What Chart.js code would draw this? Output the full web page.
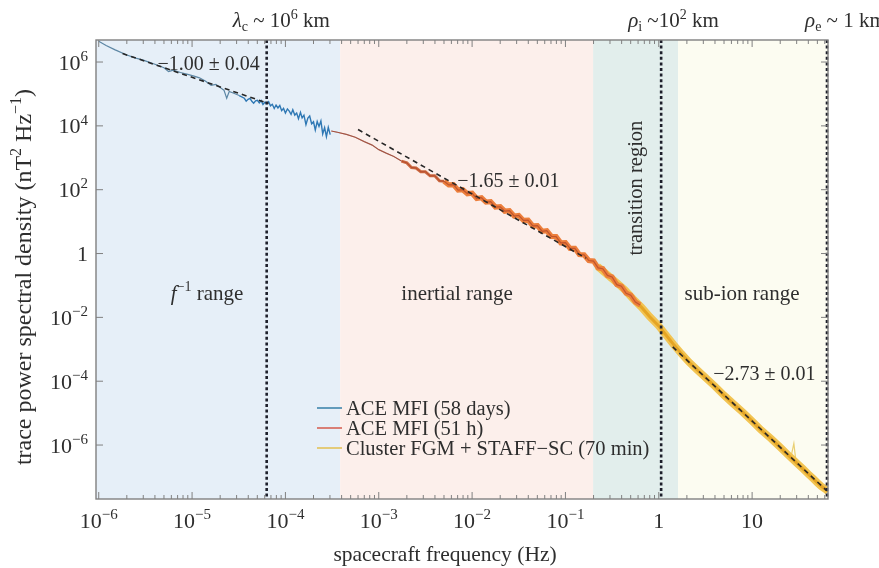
<!DOCTYPE html>
<html>
<head>
<meta charset="utf-8">
<script src="https://cdn.jsdelivr.net/npm/chart.js@4.4.0/dist/chart.umd.min.js"></script>
<style>
  html, body { margin: 0; padding: 0; background: #fff; }
  #wrap { width: 879px; height: 568px; position: relative; }
</style>
</head>
<body>
<div id="wrap"><canvas id="psd"></canvas></div>
<script>
// ACE MFI, 58 days (Hz, nT^2 Hz^-1)
const freqAce58 = [1.0e-6, 1.2e-6, 1.5e-6, 2.0e-6, 2.5e-6, 3.0e-6, 3.5e-6, 4.0e-6, 5.0e-6, 5.6e-6,
  6.3e-6, 7.5e-6, 9.0e-6, 1.05e-5, 1.2e-5, 1.4e-5, 1.6e-5, 1.8e-5, 2.0e-5, 2.2e-5,
  2.35e-5, 2.5e-5, 2.8e-5, 3.2e-5,
  3.63e-5, 3.80e-5, 3.98e-5, 4.17e-5, 4.37e-5, 4.57e-5, 4.79e-5, 5.01e-5, 5.25e-5, 5.50e-5,
  5.75e-5, 6.03e-5, 6.31e-5, 6.61e-5, 6.92e-5, 7.24e-5, 7.59e-5, 7.94e-5, 8.32e-5, 8.71e-5,
  9.12e-5, 9.55e-5, 1.00e-4, 1.05e-4, 1.10e-4, 1.15e-4, 1.20e-4, 1.26e-4, 1.32e-4, 1.38e-4,
  1.45e-4, 1.51e-4, 1.58e-4, 1.66e-4, 1.74e-4, 1.82e-4, 1.91e-4, 2.00e-4, 2.09e-4, 2.19e-4,
  2.29e-4, 2.40e-4, 2.51e-4, 2.63e-4, 2.75e-4, 2.88e-4, 3.02e-4];
const psdAce58 = [4.5e6, 3.3e6, 2.4e6, 1.66e6, 1.32e6, 1.15e6, 9.8e5, 8.5e5, 6.6e5, 5.0e5,
  5.6e5, 4.7e5, 4.1e5, 3.6e5, 3.2e5, 2.5e5, 1.86e5, 2.0e5, 1.6e5, 1.3e5,
  7.4e4, 1.2e5, 1.05e5, 8.9e4,
  7.33e4, 5.94e4, 6.82e4, 7.31e4, 5.93e4, 5.16e4, 6.05e4, 6.34e4, 5.27e4, 6.18e4,
  4.69e4, 5.50e4, 5.01e4, 5.73e4, 4.24e4, 4.73e4, 3.50e4, 4.49e4, 3.63e4, 4.36e4,
  3.00e4, 3.52e4, 2.54e4, 3.40e4, 2.89e4, 2.28e4, 3.18e4, 2.18e4, 2.53e4, 1.69e4,
  2.65e4, 1.77e4, 2.16e4, 1.10e4, 1.76e4, 2.04e4, 1.16e4, 1.34e4, 7.4e3, 1.37e4,
  9.57e3, 1.42e4, 5.6e3, 8.79e3, 4.6e3, 9.0e3, 5.32e3];

// ACE MFI, 51 h
const freqAce51 = [3.1e-4, 3.6e-4, 4.5e-4, 5.6e-4, 7.0e-4, 8.5e-4, 1.0e-3, 1.2e-3, 1.45e-3, 1.75e-3,
  2.00e-3, 2.24e-3, 2.51e-3, 2.82e-3, 3.16e-3, 3.55e-3, 3.98e-3, 4.47e-3, 5.01e-3, 5.62e-3,
  6.31e-3, 7.08e-3, 7.94e-3, 8.91e-3, 1.00e-2, 1.12e-2, 1.26e-2, 1.41e-2, 1.58e-2, 1.78e-2,
  2.00e-2, 2.24e-2, 2.51e-2, 2.82e-2, 3.16e-2, 3.55e-2, 3.98e-2, 4.47e-2, 5.01e-2, 5.62e-2,
  6.31e-2, 7.08e-2, 7.94e-2, 8.91e-2, 0.100, 0.112, 0.126, 0.141, 0.158, 0.178,
  0.200, 0.224, 0.251, 0.282, 0.316, 0.355, 0.398, 0.447, 0.501, 0.562, 0.631];
const psdAce51 = [6.9e3, 6.3e3, 5.4e3, 4.4e3, 3.2e3, 2.5e3, 1.8e3, 1.4e3, 1.1e3, 790,
  692, 495, 479, 364, 365, 272, 272, 189, 185, 141,
  144, 97.3, 100, 75.0, 77.4, 53.0, 56.0, 41.0, 42.3, 28.6,
  29.2, 21.2, 22.1, 15.0, 15.6, 10.9, 11.1, 7.35, 7.46, 4.99,
  5.18, 3.42, 3.39, 2.17, 2.21, 1.46, 1.46, 0.933, 0.912, 0.603,
  0.581, 0.355, 0.335, 0.206, 0.184, 0.106, 0.0946, 0.0570, 0.0497, 0.0302, 0.0245];

// Cluster FGM + STAFF-SC, 70 min
const freqCluster = [0.22, 0.28, 0.35, 0.43, 0.53, 0.65, 0.8, 1.0, 1.2, 1.45,
  1.75, 2.1, 2.6, 3.2, 4.0, 5.0, 6.3, 8.0, 10, 12.5,
  16, 20, 25, 30, 35, 40, 45, 50, 55, 62, 65];
const psdCluster = [0.40, 0.22, 0.126, 0.074, 0.038, 0.021, 0.0105, 5.4e-3, 2.75e-3, 1.38e-3,
  7.2e-4, 4.0e-4, 2.2e-4, 1.26e-4, 6.9e-5, 3.6e-5, 1.95e-5, 1.05e-5, 5.6e-6, 2.95e-6,
  1.58e-6, 8.5e-7, 4.5e-7, 2.75e-7, 1.8e-7, 1.23e-7, 8.9e-8, 6.6e-8, 5.1e-8, 4.0e-8, 3.5e-8];
// narrow spikes at the high-frequency end
const freqSpikes = [26, 28, 29.5, null, 35, 37, 38.5, null, 45, 47, 49, null, 56, 58, 60];
const psdSpikes = [4.0e-7, 1.12e-6, 3.0e-7, null, 1.9e-7, 5.6e-7, 1.6e-7, null, 9.0e-8, 3.5e-7, 7.5e-8, null, 5.0e-8, 2.5e-7, 4.5e-8];

// power-law fits
const fitSlopes = [-1.00, -1.65, -2.73];
const fitErrors = [0.04, 0.01, 0.01];
const fitAnchorFreq = [2.0e-6, 1.07e-2, 2.0];
const fitAnchorPsd = [1.66e6, 66, 4.57e-4];
const fitFrom = [1.8e-6, 6.0e-4, 1.41];
const fitTo = [6.6e-5, 0.166, 63];
const fitLabelFreq = [1.5e-5, 0.0245, 13.5];
const fitLabelPsd = [9.3e5, 200, 1.8e-4];

// spectral ranges and characteristic scales
const rangeEdges = [3.86e-4, 0.198, 1.61];
const rangeNames = ['f⁻¹ range', 'inertial range', 'transition region', 'sub-ion range'];
const rangeLabelFreq = [1.45e-5, 6.9e-3, 0.56, 7.8];
const scaleFreq = [6.3e-5, 1.06, 63.5];

const legendLabels = ['ACE MFI (58 days)', 'ACE MFI (51 h)', 'Cluster FGM + STAFF−SC (70 min)'];
const legendColors = ['#3f86ad', '#d66356', '#e3c25a'];

const xTickExp = [-6, -5, -4, -3, -2, -1, 0, 1];
const yTickExp = [6, 4, 2, 0, -2, -4, -6];

const X_MIN = 9.35e-7, X_MAX = 65;
const Y_MIN = 2.04e-8, Y_MAX = 4.9e6;

const SERIF = '"Liberation Serif", "DejaVu Serif", serif';
const INK = '#2e2e2e';

const pts = (xs, ys) => xs.map((x, i) => (x === null ? { x: NaN, y: null } : { x, y: ys[i] }));

const fitLine = (k) => {
  const f = (v) => fitAnchorPsd[k] * Math.pow(v / fitAnchorFreq[k], fitSlopes[k]);
  return [{ x: fitFrom[k], y: f(fitFrom[k]) }, { x: fitTo[k], y: f(fitTo[k]) }];
};

// mixed runs: ['text', kind] with kind '', 'i', 'sup', 'sub'
const runFont = (k, size) => {
  const small = k === 'sup' || k === 'sub';
  const italic = k === 'i';
  return `${italic ? 'italic ' : ''}${small ? Math.round(size * 0.66) : size}px ${SERIF}`;
};
const richWidth = (ctx, runs, size) => runs.reduce((w, [t, k]) => {
  ctx.font = runFont(k, size);
  return w + ctx.measureText(t).width;
}, 0);
const drawRich = (ctx, runs, x, y, size, align) => {
  const w = richWidth(ctx, runs, size);
  let cx = align === 'center' ? x - w / 2 : align === 'right' ? x - w : x;
  ctx.textBaseline = 'alphabetic';
  ctx.textAlign = 'left';
  runs.forEach(([t, k]) => {
    ctx.font = runFont(k, size);
    let dy = 0;
    if (k === 'sup') dy = -size * 0.4;
    if (k === 'sub') dy = size * 0.2;
    ctx.fillText(t, cx, y + dy);
    cx += ctx.measureText(t).width;
  });
};
const powRuns = (e) => {
  if (e === 0) return [['1', '']];
  if (e === 1) return [['10', '']];
  return [['10', ''], [e < 0 ? '−' + Math.abs(e) : String(e), 'sup']];
};

const decor = {
  id: 'decor',
  beforeDatasetsDraw(chart) {
    const { ctx, chartArea: a, scales: { x } } = chart;
    const fills = ['#e6eff8', '#fcefeb', '#e2eeec', '#fcfcf1'];
    const edges = [a.left, ...rangeEdges.map((v) => x.getPixelForValue(v)), a.right];
    ctx.save();
    fills.forEach((c, i) => {
      ctx.fillStyle = c;
      ctx.fillRect(edges[i], a.top, edges[i + 1] - edges[i], a.bottom - a.top);
    });
    ctx.restore();
  },
  afterDatasetsDraw(chart) {
    const { ctx, chartArea: a, scales: { x, y } } = chart;
    ctx.save();
    // characteristic scales
    ctx.strokeStyle = '#1d1f2b';
    ctx.lineWidth = 2.6;
    ctx.setLineDash([3, 2.6]);
    scaleFreq.forEach((f) => {
      const px = Math.min(x.getPixelForValue(f), a.right - 1);
      ctx.beginPath();
      ctx.moveTo(px, a.top);
      ctx.lineTo(px, a.bottom);
      ctx.stroke();
    });
    ctx.setLineDash([]);

    // frame and inward ticks
    ctx.strokeStyle = '#808080';
    ctx.lineWidth = 1.4;
    ctx.strokeRect(a.left, a.top, a.right - a.left, a.bottom - a.top);
    ctx.lineWidth = 1;
    ctx.beginPath();
    for (let e = -7; e <= 1; e++) {
      for (let m = 1; m <= 9; m++) {
        const v = m * Math.pow(10, e);
        if (v < X_MIN || v > X_MAX) continue;
        const px = x.getPixelForValue(v);
        const len = m === 1 ? 7 : 4;
        ctx.moveTo(px, a.bottom); ctx.lineTo(px, a.bottom - len);
        ctx.moveTo(px, a.top); ctx.lineTo(px, a.top + len);
      }
    }
    yTickExp.forEach((e) => {
      const py = y.getPixelForValue(Math.pow(10, e));
      ctx.moveTo(a.left, py); ctx.lineTo(a.left + 7, py);
      ctx.moveTo(a.right, py); ctx.lineTo(a.right - 7, py);
    });
    ctx.stroke();

    // tick labels
    ctx.fillStyle = INK;
    xTickExp.forEach((e) => {
      drawRich(ctx, powRuns(e), x.getPixelForValue(Math.pow(10, e)), a.bottom + 29, 22, 'center');
    });
    yTickExp.forEach((e) => {
      drawRich(ctx, powRuns(e), a.left - 8, y.getPixelForValue(Math.pow(10, e)) + 7.5, 22, 'right');
    });

    // axis titles
    drawRich(ctx, [['spacecraft frequency (Hz)', '']], 445, 561, 21.5, 'center');
    ctx.save();
    ctx.translate(31, 277);
    ctx.rotate(-Math.PI / 2);
    drawRich(ctx, [['trace power spectral density (nT', ''], ['2', 'sup'], [' Hz', ''], ['−1', 'sup'], [')', '']], 0, 0, 24, 'center');
    ctx.restore();

    // characteristic scale labels above the frame
    const topY = 27;
    drawRich(ctx, [['λ', 'i'], ['c', 'sub'], [' ~ 10', ''], ['6', 'sup'], [' km', '']], x.getPixelForValue(scaleFreq[0]) - 34, topY, 21, 'left');
    drawRich(ctx, [['ρ', 'i'], ['i', 'sub'], [' ~10', ''], ['2', 'sup'], [' km', '']], x.getPixelForValue(scaleFreq[1]) - 33, topY, 21, 'left');
    drawRich(ctx, [['ρ', 'i'], ['e', 'sub'], [' ~ 1 km', '']], x.getPixelForValue(scaleFreq[2]) - 22, topY, 21, 'left');

    // range names
    const midY = y.getPixelForValue(0.06) + 7;
    drawRich(ctx, [['f', 'i'], ['−1', 'sup'], [' range', '']], x.getPixelForValue(rangeLabelFreq[0]), midY, 21, 'center');
    drawRich(ctx, [[rangeNames[1], '']], x.getPixelForValue(rangeLabelFreq[1]), midY, 21, 'center');
    drawRich(ctx, [[rangeNames[3], '']], x.getPixelForValue(rangeLabelFreq[3]), midY, 21, 'center');
    ctx.save();
    ctx.translate(x.getPixelForValue(rangeLabelFreq[2]) + 7, y.getPixelForValue(112));
    ctx.rotate(-Math.PI / 2);
    drawRich(ctx, [[rangeNames[2], '']], 0, 0, 20.5, 'center');
    ctx.restore();

    // fit slopes
    fitSlopes.forEach((s, k) => {
      const txt = '−' + Math.abs(s).toFixed(2) + ' ± ' + fitErrors[k].toFixed(2);
      drawRich(ctx, [[txt, '']], x.getPixelForValue(fitLabelFreq[k]), y.getPixelForValue(fitLabelPsd[k]) + 7, 20, 'center');
    });

    // legend
    legendLabels.forEach((t, i) => {
      const ly = 408 + i * 20;
      ctx.strokeStyle = legendColors[i];
      ctx.lineWidth = 1.6;
      ctx.beginPath();
      ctx.moveTo(317, ly); ctx.lineTo(342, ly);
      ctx.stroke();
      ctx.fillStyle = INK;
      drawRich(ctx, [[t, '']], 346, ly + 6.5, 20.5, 'left');
    });
    ctx.restore();
  }
};

const fitSets = [0, 1, 2].map((k) => ({
  label: 'fit ' + fitSlopes[k],
  data: fitLine(k),
  borderColor: '#262626',
  borderWidth: 1.6,
  borderDash: [5, 4],
  pointRadius: 0
}));

// thin early part, thick band once the 51 h record dominates
const aceBandWidth = (c) => (c.p0.parsed.x < 1.5e-3 ? 1.2 : c.p0.parsed.x < 5e-3 ? 3 : 5.2);
const aceBandColor = (c) => (c.p0.parsed.x < 1.5e-3 ? '#a8776a' : c.p0.parsed.x < 5e-3 ? '#cc6a40' : '#ec7f3c');

new Chart(document.getElementById('psd'), {
  type: 'line',
  data: {
    datasets: [
      ...fitSets,
      {
        label: legendLabels[1] + ' core',
        data: pts(freqAce51, psdAce51),
        borderColor: 'rgba(165, 55, 35, 0.6)',
        borderWidth: 1,
        pointRadius: 0,
        segment: { borderWidth: (c) => (c.p0.parsed.x < 5e-3 ? 0 : 1.2) }
      },
      {
        label: legendLabels[1],
        data: pts(freqAce51, psdAce51),
        borderColor: '#ec7f3c',
        borderWidth: 5,
        pointRadius: 0,
        segment: { borderWidth: aceBandWidth, borderColor: aceBandColor }
      },
      {
        label: legendLabels[0],
        data: pts(freqAce58, psdAce58),
        borderColor: '#2f78b4',
        borderWidth: 1.4,
        pointRadius: 0,
        borderJoinStyle: 'miter',
        segment: {
          borderColor: (c) => (c.p0.parsed.x < 3.0e-5 ? '#5c86a4' : '#2f78b4'),
          borderWidth: (c) => (c.p0.parsed.x < 3.0e-5 ? 1.2 : 1.4)
        }
      },
      {
        label: legendLabels[2] + ' core',
        data: pts(freqCluster, psdCluster),
        borderColor: '#e4a424',
        borderWidth: 3,
        pointRadius: 0
      },
      {
        label: legendLabels[2],
        data: pts(freqCluster, psdCluster),
        borderColor: '#f2c453',
        borderWidth: 7.5,
        pointRadius: 0
      },
      {
        label: 'spikes',
        data: pts(freqSpikes, psdSpikes),
        borderColor: '#e9cf72',
        borderWidth: 1.2,
        pointRadius: 0,
        spanGaps: false
      }
    ]
  },
  options: {
    responsive: true,
    maintainAspectRatio: false,
    animation: false,
    devicePixelRatio: 1,
    parsing: false,
    layout: { padding: { left: 96, top: 40, right: 51, bottom: 69 } },
    plugins: { legend: { display: false }, tooltip: { enabled: false } },
    scales: {
      x: { type: 'logarithmic', min: X_MIN, max: X_MAX, display: false },
      y: { type: 'logarithmic', min: Y_MIN, max: Y_MAX, display: false }
    }
  },
  plugins: [decor]
});
</script>
</body>
</html>
